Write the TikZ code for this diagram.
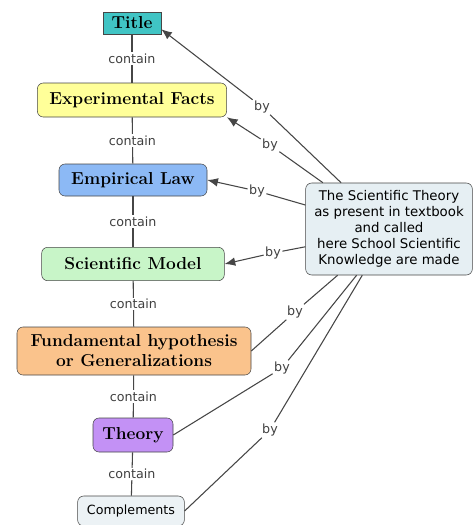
\documentclass[tikz,border=0pt]{standalone}
\usepackage{fontspec}
\usetikzlibrary{shapes,arrows.meta,calc}
\usetikzlibrary{positioning}
\newfontfamily\labelfont{DejaVu Sans}
\definecolor{titlefill}{RGB}{64,196,196}
\definecolor{factfill}{RGB}{255,255,153}
\definecolor{lawfill}{RGB}{140,185,245}
\definecolor{modelfill}{RGB}{200,245,200}
\definecolor{hypfill}{RGB}{250,195,140}
\definecolor{theoryfill}{RGB}{195,145,245}
\definecolor{compfill}{RGB}{236,242,245}
\definecolor{sourcefill}{RGB}{230,239,243}
\definecolor{edge}{RGB}{70,70,70}

\begin{document}
\begin{tikzpicture}[x=0.75pt, y=-0.75pt]
	\tikzset{concept/.style={rectangle, draw=edge, rounded corners=4.5pt, inner sep=0pt, align=center, font=\fontsize{13}{15}\selectfont\bfseries\addfontfeatures{FakeBold=1.6}}};
	\tikzset{plain/.style={rectangle, draw=edge, rounded corners=4.5pt, inner sep=0pt, align=center, font=\labelfont\fontsize{9.5}{12}\selectfont}};
	\tikzset{link/.style={draw=edge, line width=0.8pt}};
	\tikzset{arrow/.style={link, -{Latex[length=8pt,width=6.5pt]}}};
	\tikzset{tag/.style={fill=white, inner sep=1pt, text=black!75, font=\labelfont\fontsize{9.5}{11}\selectfont}};
	\useasboundingbox (0,0) rectangle (473,525);
	% Place nodes
	\node [concept, rounded corners=0pt, fill=titlefill, minimum width=43.5pt, minimum height=16.5pt] (title) at (132,23) {Title};
	\node [concept, fill=factfill, minimum width=142pt, minimum height=25.5pt] (facts) at (132,100) {Experimental Facts};
	\node [concept, fill=lawfill, minimum width=111pt, minimum height=24pt] (law) at (133,180) {Empirical Law};
	\node [concept, fill=modelfill, minimum width=137pt, minimum height=25pt] (model) at (133,264) {Scientific Model};
	\node [concept, fill=hypfill, minimum width=175.5pt, minimum height=36pt] (hyp) at (134,351) {Fundamental hypothesis\\or Generalizations};
	\node [concept, fill=theoryfill, minimum width=60pt, minimum height=25.5pt] (theory) at (133,435) {Theory};
	\node [plain, fill=compfill, minimum width=80pt, minimum height=22.5pt] (comp) at (131,511) {Complements};
	\node [plain, fill=sourcefill, font=\labelfont\fontsize{10}{12}\selectfont, minimum width=125pt, minimum height=69pt] (source) at (389,229) {The Scientific Theory\\as present in textbook\\and called\\here School Scientific\\Knowledge are made};
	% linking phrases
	\node [tag] (by1) at (262,107) {by};
	\node [tag] (by2) at (270,145) {by};
	\node [tag] (by3) at (257,191) {by};
	\node [tag] (by4) at (273,253) {by};
	\node [tag] (by5) at (295,312) {by};
	\node [tag] (by6) at (282,368) {by};
	\node [tag] (by7) at (270,430) {by};
	%Place draw
	\draw [link] (title) -- node[tag] {contain} (facts);
	\draw [link] (facts) -- node[tag] {contain} (law);
	\draw [link] (law) -- node[tag] {contain} (model);
	\draw [link] (model) -- node[tag] {contain} (hyp);
	\draw [link] (hyp) -- node[tag] {contain} (theory);
	\draw [link] (theory) -- node[tag] {contain} (comp);

	\draw [link] (source.136) -- (by1);
	\draw [arrow] (by1) -- (title.-12);
	\draw [link] (source.145) -- (by2);
	\draw [arrow] (by2) -- (facts.south east);
	\draw [link] (source.164) -- (by3);
	\draw [arrow] (by3) -- (law.east);
	\draw [link] (source.192) -- (by4);
	\draw [arrow] (by4) -- (model.east);
	\draw [link] (source.222) -- (by5) -- (hyp.east);
	\draw [link] (source.235) -- (by6) -- (theory.east);
	\draw [link] (source.240) -- (by7) -- (comp.east);
\end{tikzpicture}
\end{document}
